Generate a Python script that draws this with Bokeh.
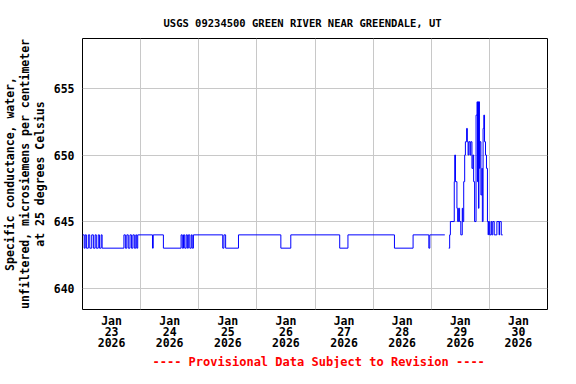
from bokeh.plotting import figure
from bokeh.models import FixedTicker, Range1d, Title
from bokeh.embed import file_html
from bokeh.resources import INLINE

# hours since 2026-01-23 00:00 and conductance values (step changes)
seg1_hours = [0.0, 0.7, 1.1, 1.6, 2.4, 3.0, 3.8, 4.5, 5.2, 5.7, 6.5, 7.0, 7.7, 8.1,
              17.1, 17.7, 18.3, 18.9, 19.6, 20.2, 20.8, 21.4, 22.0, 22.4, 22.8,
              28.9, 29.2, 33.4,
              40.7, 41.2, 41.7, 42.2, 42.8, 43.3, 43.7, 44.3, 44.9, 45.3, 45.8,
              57.9, 58.4, 59.1, 64.4, 81.9, 86.0, 106.2, 109.6, 128.8, 136.5, 143.0, 143.4, 149.6]
seg1_values = [644, 643, 644, 643, 644, 643, 644, 643, 644, 643, 644, 643, 644, 643,
               644, 643, 644, 643, 644, 643, 644, 643, 644, 643, 644,
               643, 644, 643,
               644, 643, 644, 643, 644, 643, 644, 643, 644, 643, 644,
               643, 644, 643, 644, 643, 644, 643, 644, 643, 644, 643, 644, 644]

seg2_hours = [151.2, 151.6, 151.9, 153.5, 153.7, 154.0, 154.6, 154.9, 155.3, 155.7, 156.2,
              156.8, 157.0, 157.4, 157.8, 158.1, 158.6, 158.9, 159.2, 159.5, 160.0, 160.3,
              160.8, 161.2, 161.5, 161.9, 162.5, 162.9, 163.1, 163.3, 163.5, 163.7, 163.9,
              164.1, 164.5, 164.9, 165.1, 165.4, 165.7, 166.0, 166.4, 166.8, 167.2, 167.5,
              167.6, 168.1, 168.7, 169.0, 169.4, 170.0, 171.1, 172.0, 172.2, 172.9, 173.5]
seg2_values = [643, 644, 645, 648, 650, 648, 646, 645, 646, 645, 644,
               646, 645, 648, 650, 651, 652, 651, 650, 651, 650, 651,
               649, 650, 648, 645, 653, 654, 648, 654, 646, 654, 649,
               651, 647, 649, 645, 652, 653, 651, 650, 649, 645, 644,
               645, 644, 645, 644, 645, 644, 645, 644, 645, 644, 644]

tick_hours = [12, 36, 60, 84, 108, 132, 156, 180]
tick_labels = ["Jan\n23\n2026", "Jan\n24\n2026", "Jan\n25\n2026", "Jan\n26\n2026",
               "Jan\n27\n2026", "Jan\n28\n2026", "Jan\n29\n2026", "Jan\n30\n2026"]
grid_hours = [24, 48, 72, 96, 120, 144, 168]
y_ticks = [640, 645, 650, 655]

FONT = "DejaVu Sans Mono"

p = figure(width=560, height=368, output_backend="svg", toolbar_location=None,
           x_range=Range1d(0, 192), y_range=Range1d(638.39, 658.76),
           min_border_left=76, min_border_right=13, min_border_top=38, min_border_bottom=50)

p.step(seg1_hours, seg1_values, mode="after", line_color="#0000ff", line_width=1)
p.step(seg2_hours, seg2_values, mode="after", line_color="#0000ff", line_width=1)

p.outline_line_color = "black"
p.outline_line_width = 1

p.xaxis.ticker = FixedTicker(ticks=tick_hours)
p.xaxis.major_label_overrides = dict(zip(tick_hours, tick_labels))
p.xgrid.ticker = FixedTicker(ticks=grid_hours)
p.yaxis.ticker = FixedTicker(ticks=y_ticks)

for ax in (p.xaxis, p.yaxis):
    ax.major_tick_line_color = None
    ax.major_tick_out = 0
    ax.major_tick_in = 0
    ax.minor_tick_line_color = None
    ax.axis_line_color = None
    ax.major_label_text_font = FONT
    ax.major_label_text_font_style = "bold"
    ax.major_label_text_font_size = "11.5px"
    ax.major_label_text_color = "black"

p.xaxis.major_label_text_line_height = 0.8
p.xaxis.major_label_standoff = 4
p.yaxis.major_label_standoff = 8

p.yaxis.axis_label = "Specific conductance, water,\nunfiltered, microsiemens per centimeter\nat 25 degrees Celsius"
p.yaxis.axis_label_text_font = FONT
p.yaxis.axis_label_text_font_style = "bold"
p.yaxis.axis_label_text_font_size = "11.5px"
p.yaxis.axis_label_text_line_height = 1.05
p.yaxis.axis_label_standoff = 4
p.yaxis.axis_label_text_color = "black"

for g in (p.xgrid, p.ygrid):
    g.grid_line_color = "#c8c8c8"
    g.grid_line_width = 1

p.title = Title(text="USGS 09234500 GREEN RIVER NEAR GREENDALE, UT", align="left",
                offset=81, standoff=20,
                text_font=FONT, text_font_style="bold", text_font_size="10.5px",
                text_color="black")

footer = Title(text="---- Provisional Data Subject to Revision ----", align="left",
               offset=70, standoff=0,
               text_font=FONT, text_font_style="bold", text_font_size="12px",
               text_color="red")
p.add_layout(footer, "below")

open("out.html", "w").write(file_html(p, INLINE))
